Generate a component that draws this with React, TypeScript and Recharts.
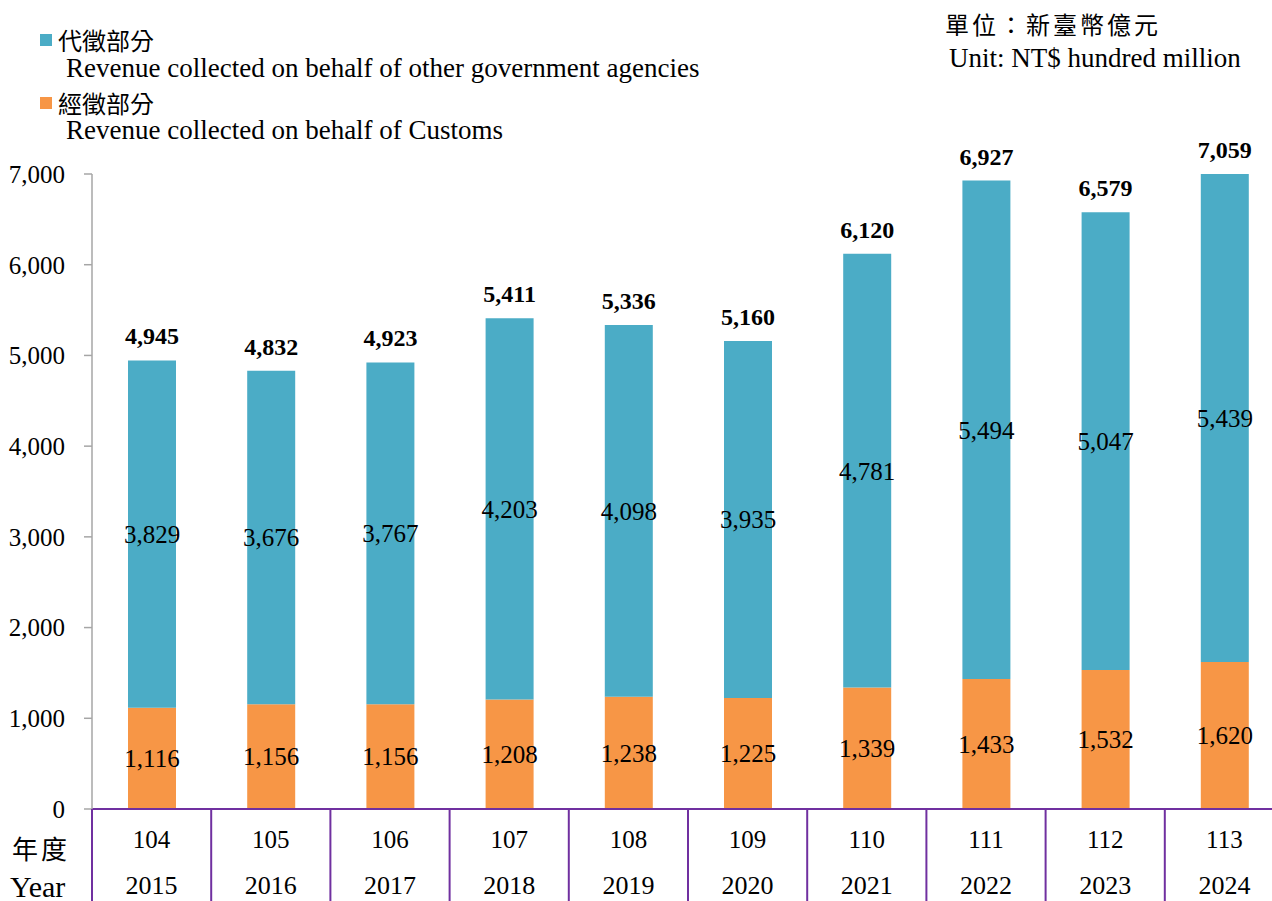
import { Bar, BarChart, LabelList, XAxis, YAxis } from "recharts";

const rocYears = ["104", "105", "106", "107", "108", "109", "110", "111", "112", "113"];
const adYears = ["2015", "2016", "2017", "2018", "2019", "2020", "2021", "2022", "2023", "2024"];
const customs = [1116, 1156, 1156, 1208, 1238, 1225, 1339, 1433, 1532, 1620];
const otherAgencies = [3829, 3676, 3767, 4203, 4098, 3935, 4781, 5494, 5047, 5439];
const totals = [4945, 4832, 4923, 5411, 5336, 5160, 6120, 6927, 6579, 7059];
const yTicks = [0, 1000, 2000, 3000, 4000, 5000, 6000, 7000];

const data = rocYears.map((roc, i) => ({
  roc,
  ad: adYears[i],
  customs: customs[i],
  other: otherAgencies[i],
  total: totals[i],
}));

const SERIF = "'Liberation Serif', 'Times New Roman', 'Noto Sans CJK TC', serif";
const CJK = "'Noto Sans CJK TC', 'Liberation Serif', serif";
const BLUE = "#4BACC6";
const ORANGE = "#F79646";
const PURPLE = "#7030A0";

const CHART_W = 1290;
const CHART_H = 901;
const PLOT_LEFT = 92;
const PLOT_RIGHT = 6;
const BAND = (CHART_W - PLOT_LEFT - PLOT_RIGHT) / rocYears.length;

const fmt = (v: any) => Number(v).toLocaleString("en-US");

function YearTick(props: any) {
  const { x, payload, index } = props;
  const item = data[index] ?? data.find((d) => d.roc === payload.value);
  return (
    <g>
      <line x1={x - BAND / 2} x2={x - BAND / 2} y1={809} y2={901} stroke={PURPLE} strokeWidth={2} />
      {index === rocYears.length - 1 && (
        <line x1={x + BAND / 2} x2={x + BAND / 2} y1={809} y2={901} stroke={PURPLE} strokeWidth={2} />
      )}
      <text x={x} y={848} textAnchor="middle" fontSize={25} fontFamily={SERIF} fill="#000">
        {payload.value}
      </text>
      <text x={x} y={894} textAnchor="middle" fontSize={26} fontFamily={SERIF} fill="#000">
        {item ? item.ad : ""}
      </text>
    </g>
  );
}

function TotalLabel(props: any) {
  const { x, y, width, value } = props;
  return (
    <text x={x + width / 2} y={y - 16} textAnchor="middle" fontSize={24} fontWeight="bold" fontFamily={SERIF} fill="#000">
      {fmt(value)}
    </text>
  );
}

export default function App() {
  return (
    <div style={{ position: "absolute", left: 0, top: 0, width: 1272, height: 901, overflow: "hidden", background: "#fff", fontFamily: SERIF }}>
      <BarChart width={CHART_W} height={CHART_H} data={data} margin={{ top: 174, right: PLOT_RIGHT, left: 0, bottom: 0 }}>
        <XAxis
          dataKey="roc"
          height={92}
          axisLine={{ stroke: PURPLE, strokeWidth: 2 }}
          tickLine={false}
          interval={0}
          tick={<YearTick />}
        />
        <YAxis
          width={PLOT_LEFT}
          domain={[0, 7000]}
          ticks={yTicks}
          allowDataOverflow
          tickFormatter={fmt}
          axisLine={{ stroke: "#A6A6A6", strokeWidth: 1.5 }}
          tickLine={{ stroke: "#A6A6A6", strokeWidth: 1.5 }}
          tickSize={8}
          tickMargin={19}
          tick={{ fontSize: 25, fontFamily: SERIF, fill: "#000" }}
        />
        <Bar dataKey="customs" stackId="a" fill={ORANGE} barSize={48} isAnimationActive={false}>
          <LabelList dataKey="customs" position="center" formatter={fmt} style={{ fontSize: 25, fontFamily: SERIF, fill: "#000" }} />
        </Bar>
        <Bar dataKey="other" stackId="a" fill={BLUE} barSize={48} isAnimationActive={false}>
          <LabelList dataKey="other" position="center" formatter={fmt} style={{ fontSize: 25, fontFamily: SERIF, fill: "#000" }} />
          <LabelList dataKey="total" content={<TotalLabel />} />
        </Bar>
      </BarChart>

      {/* legend */}
      <div style={{ position: "absolute", left: 40, top: 34, width: 12, height: 12, background: BLUE }} />
      <div style={{ position: "absolute", left: 58, top: 27, fontFamily: CJK, fontSize: 24, lineHeight: "26px", color: "#000" }}>代徵部分</div>
      <div style={{ position: "absolute", left: 66, top: 55, fontFamily: SERIF, fontSize: 27, lineHeight: "27px", color: "#000", whiteSpace: "nowrap" }}>
        Revenue collected on behalf of other government agencies
      </div>
      <div style={{ position: "absolute", left: 40, top: 97, width: 12, height: 12, background: ORANGE }} />
      <div style={{ position: "absolute", left: 58, top: 90, fontFamily: CJK, fontSize: 24, lineHeight: "26px", color: "#000" }}>經徵部分</div>
      <div style={{ position: "absolute", left: 66, top: 117, fontFamily: SERIF, fontSize: 27, lineHeight: "27px", color: "#000", whiteSpace: "nowrap" }}>
        Revenue collected on behalf of Customs
      </div>

      {/* unit */}
      <div style={{ position: "absolute", left: 945, top: 11, fontFamily: CJK, fontSize: 24, letterSpacing: 3, lineHeight: "26px", color: "#000", whiteSpace: "nowrap" }}>
        單位：新臺幣億元
      </div>
      <div style={{ position: "absolute", left: 949, top: 45, fontFamily: SERIF, fontSize: 27, lineHeight: "27px", color: "#000", whiteSpace: "nowrap" }}>
        Unit: NT$ hundred million
      </div>

      <div style={{ position: "absolute", left: 12, top: 834, fontFamily: CJK, fontSize: 26, letterSpacing: 3, lineHeight: "28px", color: "#000" }}>年度</div>
      <div style={{ position: "absolute", left: 10, top: 873, fontFamily: SERIF, fontSize: 30, lineHeight: "28px", color: "#000" }}>Year</div>
    </div>
  );
}
